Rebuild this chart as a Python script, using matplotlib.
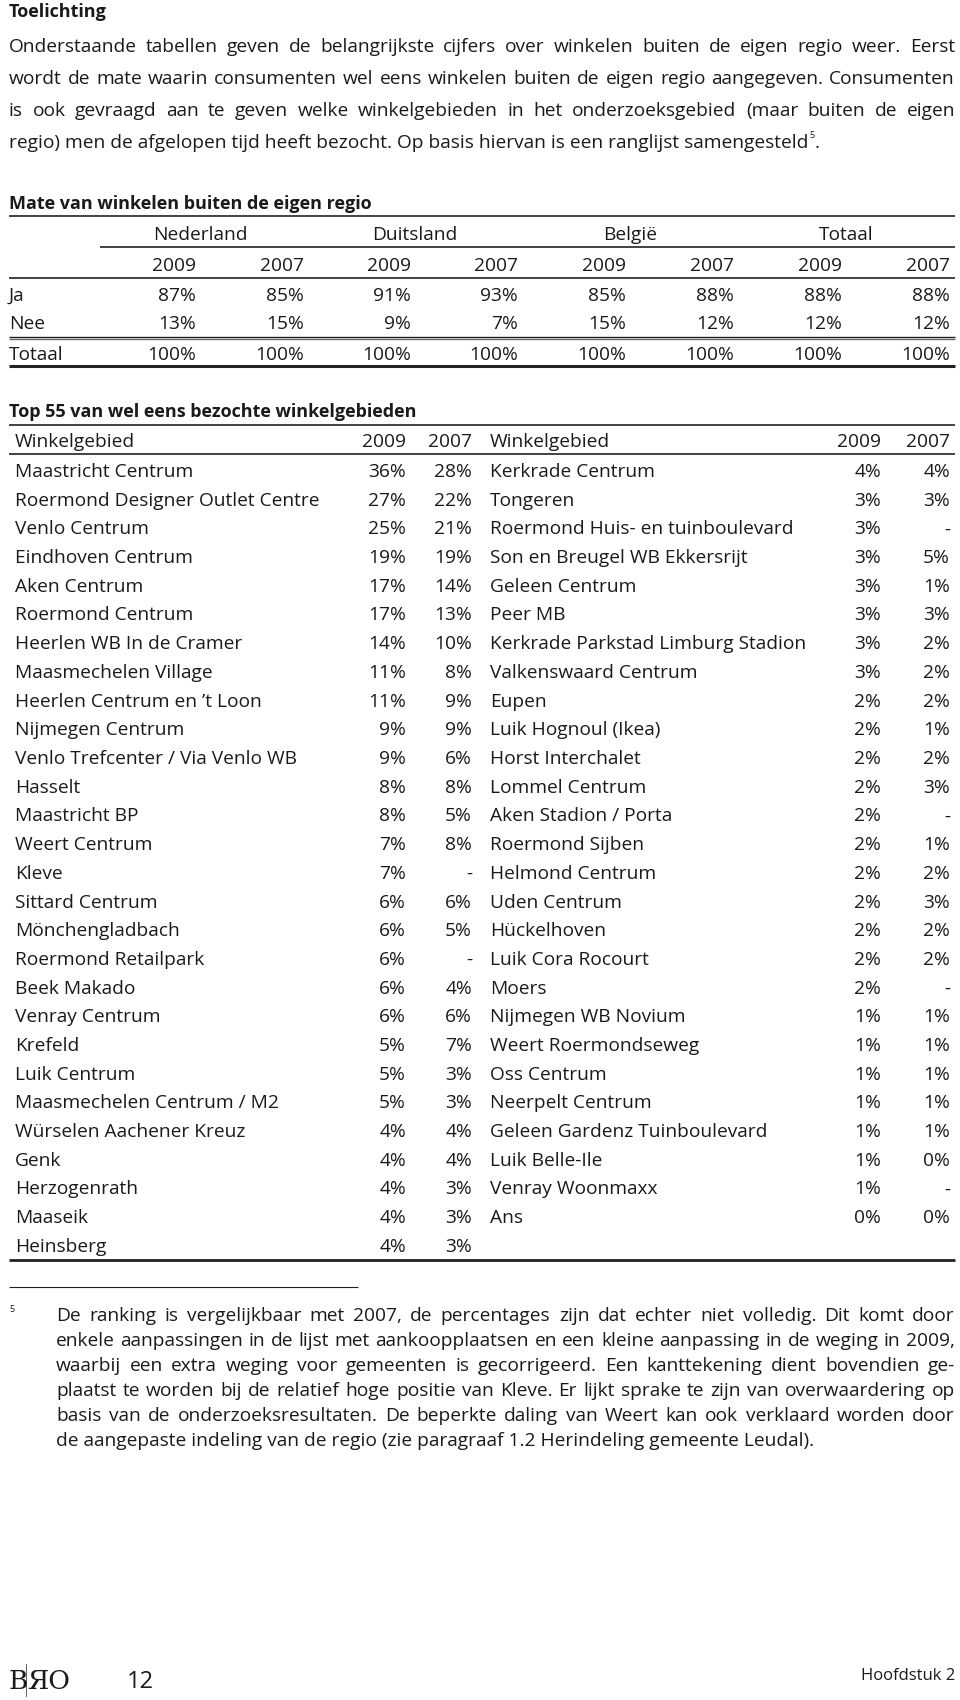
import matplotlib
matplotlib.use("Agg")
import matplotlib.pyplot as plt

FONT = "Open Sans"
C = "#1a1a1a"

# ---------------- data ----------------
para_lines = [
    "Onderstaande tabellen geven de belangrijkste cijfers over winkelen buiten de eigen regio weer. Eerst",
    "wordt de mate waarin consumenten wel eens winkelen buiten de eigen regio aangegeven. Consumenten",
    "is ook gevraagd aan te geven welke winkelgebieden in het onderzoeksgebied (maar buiten de eigen",
    "regio) men de afgelopen tijd heeft bezocht. Op basis hiervan is een ranglijst samengesteld",
]
countries = ["Nederland", "Duitsland", "België", "Totaal"]
years = ["2009", "2007"]
t1_rows = ["Ja", "Nee", "Totaal"]
t1_ja = ["87%", "85%", "91%", "93%", "85%", "88%", "88%", "88%"]
t1_nee = ["13%", "15%", "9%", "7%", "15%", "12%", "12%", "12%"]
t1_tot = ["100%"] * 8

left_names = ["Maastricht Centrum", "Roermond Designer Outlet Centre", "Venlo Centrum",
              "Eindhoven Centrum", "Aken Centrum", "Roermond Centrum", "Heerlen WB In de Cramer",
              "Maasmechelen Village", "Heerlen Centrum en \u2019t Loon", "Nijmegen Centrum",
              "Venlo Trefcenter / Via Venlo WB", "Hasselt", "Maastricht BP", "Weert Centrum",
              "Kleve", "Sittard Centrum", "Mönchengladbach", "Roermond Retailpark", "Beek Makado",
              "Venray Centrum", "Krefeld", "Luik Centrum", "Maasmechelen Centrum / M2",
              "Würselen Aachener Kreuz", "Genk", "Herzogenrath", "Maaseik", "Heinsberg"]
left_2009 = ["36%", "27%", "25%", "19%", "17%", "17%", "14%", "11%", "11%", "9%", "9%", "8%",
             "8%", "7%", "7%", "6%", "6%", "6%", "6%", "6%", "5%", "5%", "5%", "4%", "4%", "4%",
             "4%", "4%"]
left_2007 = ["28%", "22%", "21%", "19%", "14%", "13%", "10%", "8%", "9%", "9%", "6%", "8%",
             "5%", "8%", "-", "6%", "5%", "-", "4%", "6%", "7%", "3%", "3%", "4%", "4%", "3%",
             "3%", "3%"]
right_names = ["Kerkrade Centrum", "Tongeren", "Roermond Huis- en tuinboulevard",
               "Son en Breugel WB Ekkersrijt", "Geleen Centrum", "Peer MB",
               "Kerkrade Parkstad Limburg Stadion", "Valkenswaard Centrum", "Eupen",
               "Luik Hognoul (Ikea)", "Horst Interchalet", "Lommel Centrum", "Aken Stadion / Porta",
               "Roermond Sijben", "Helmond Centrum", "Uden Centrum", "Hückelhoven",
               "Luik Cora Rocourt", "Moers", "Nijmegen WB Novium", "Weert Roermondseweg",
               "Oss Centrum", "Neerpelt Centrum", "Geleen Gardenz Tuinboulevard", "Luik Belle-Ile",
               "Venray Woonmaxx", "Ans"]
right_2009 = ["4%", "3%", "3%", "3%", "3%", "3%", "3%", "3%", "2%", "2%", "2%", "2%", "2%",
              "2%", "2%", "2%", "2%", "2%", "2%", "1%", "1%", "1%", "1%", "1%", "1%", "1%", "0%"]
right_2007 = ["4%", "3%", "-", "5%", "1%", "3%", "2%", "2%", "2%", "1%", "2%", "3%", "-", "1%",
              "2%", "3%", "2%", "2%", "-", "1%", "1%", "1%", "1%", "1%", "0%", "-", "0%"]

foot_lines = [
    "De ranking is vergelijkbaar met 2007, de percentages zijn dat echter niet volledig. Dit komt door",
    "enkele aanpassingen in de lijst met aankoopplaatsen en een kleine aanpassing in de weging in 2009,",
    "waarbij een extra weging voor gemeenten is gecorrigeerd. Een kanttekening dient bovendien ge-",
    "plaatst te worden bij de relatief hoge positie van Kleve. Er lijkt sprake te zijn van overwaardering op",
    "basis van de onderzoeksresultaten. De beperkte daling van Weert kan ook verklaard worden door",
    "de aangepaste indeling van de regio (zie paragraaf 1.2 Herindeling gemeente Leudal).",
]

# ---------------- figure ----------------
W, H = 960, 1700
fig = plt.figure(figsize=(W / 100, H / 100), dpi=100)
ax = fig.add_axes([0, 0, 1, 1])
ax.set_xlim(0, W)
ax.set_ylim(H, 0)
ax.axis("off")
renderer = fig.canvas.get_renderer()

FS = 13.8
TFS = 13.0


def txt(x, y, s, ha="left", fs=FS, weight="normal", family=FONT, color=C):
    return ax.text(x, y, s, ha=ha, va="center_baseline", fontsize=fs, fontweight=weight,
                   family=family, color=color)


def width(s, fs=FS):
    t = ax.text(0, 0, s, fontsize=fs, family=FONT)
    w = t.get_window_extent(renderer).width
    t.remove()
    return w


def justify(line, x0, x1, y, fs=FS):
    words = line.split(" ")
    ws = [width(w, fs) for w in words]
    gap = (x1 - x0 - sum(ws)) / (len(words) - 1)
    x = x0
    for w, wd in zip(words, ws):
        txt(x, y, w, fs=fs)
        x += wd + gap


def hline(y, x0, x1, lw=1.0, color="#222222"):
    ax.plot([x0, x1], [y, y], color=color, lw=lw, solid_capstyle="butt")


# ---------------- intro ----------------
txt(9, 10, "Toelichting", weight="bold", fs=TFS)
para_y = [45, 77, 109, 141]
for i, (ln, y) in enumerate(zip(para_lines, para_y)):
    if i < len(para_lines) - 1:
        justify(ln, 9, 955, y)
    else:
        t = txt(9, y, ln)
        wlast = t.get_window_extent(renderer).width
        txt(9 + wlast + 1, y - 7, "5", fs=6.5)
        txt(9 + wlast + 6, y, ".")

# ---------------- table 1 ----------------
txt(9, 202, "Mate van winkelen buiten de eigen regio", weight="bold", fs=TFS)
hline(216, 9, 955, lw=1.2)
col_r = [196, 304, 411, 518, 626, 734, 842, 950]
for k, c in enumerate(countries):
    txt((col_r[2 * k] + col_r[2 * k + 1]) / 2 - 50, 233, c, ha="center")
hline(247, 100, 955, lw=1.2)
for j, x in enumerate(col_r):
    txt(x, 264, years[j % 2], ha="right")
hline(278, 9, 955, lw=1.2)
for row_label, vals, y in zip(t1_rows, [t1_ja, t1_nee, t1_tot], [294, 322, 353]):
    txt(9, y, row_label)
    for x, v in zip(col_r, vals):
        txt(x, y, v, ha="right")
hline(336.5, 9, 955, lw=1.0)
hline(338.5, 9, 955, lw=1.0, color="#666666")
hline(366, 9, 955, lw=2.2)

# ---------------- table 2 ----------------
txt(9, 410, "Top 55 van wel eens bezochte winkelgebieden", weight="bold", fs=TFS)
hline(425, 9, 955, lw=1.2)
hdr_y = 440
txt(15, hdr_y, "Winkelgebied")
txt(406, hdr_y, years[0], ha="right")
txt(472, hdr_y, years[1], ha="right")
txt(490, hdr_y, "Winkelgebied")
txt(881, hdr_y, years[0], ha="right")
txt(950, hdr_y, years[1], ha="right")
hline(454, 9, 955, lw=1.2)
y0, step = 470, 28.7
for i, (n, a, b) in enumerate(zip(left_names, left_2009, left_2007)):
    y = y0 + i * step
    txt(15, y, n)
    txt(406, y, a, ha="right")
    txt(472, y, b, ha="right")
for i, (n, a, b) in enumerate(zip(right_names, right_2009, right_2007)):
    y = y0 + i * step
    txt(490, y, n)
    txt(881, y, a, ha="right")
    txt(950, y, b, ha="right")
hline(1260, 9, 955, lw=2.0)

# ---------------- footnote ----------------
hline(1287, 9, 358, lw=0.8)
txt(9, 1308, "5", fs=6.5)
for i, ln in enumerate(foot_lines):
    y = 1314 + i * 25
    if i < len(foot_lines) - 1:
        justify(ln, 56, 955, y)
    else:
        txt(56, y, ln)

# ---------------- page footer ----------------
txt(9, 1679, "B", fs=19, family="DejaVu Serif")
ax.plot([25.5, 25.5], [1664, 1696], color="#444444", lw=0.6)
txt(27, 1679, "\u042fO", fs=19, family="DejaVu Serif")
txt(127, 1679, "12", fs=17)
txt(955, 1674, "Hoofdstuk 2", ha="right", fs=12)

fig.savefig("out.png", dpi=100)
